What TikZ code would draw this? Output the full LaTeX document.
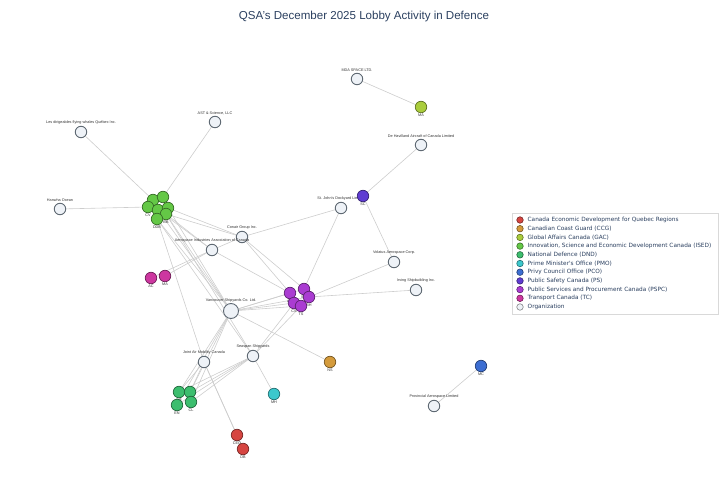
\documentclass[tikz,border=0pt]{standalone}
\usepackage{fontspec}
\setmainfont{Liberation Sans}
\newfontfamily\legendfont{DejaVu Sans}
\usetikzlibrary{backgrounds}
\definecolor{titlecol}{RGB}{42,63,95}
\definecolor{edgegray}{RGB}{205,205,205}
\definecolor{orgfill}{RGB}{238,242,247}
\definecolor{orgline}{RGB}{95,105,115}
\definecolor{cedcol}{RGB}{214,69,65}
\definecolor{ccgcol}{RGB}{212,155,60}
\definecolor{gaccol}{RGB}{170,205,60}
\definecolor{isedcol}{RGB}{100,200,70}
\definecolor{dndcol}{RGB}{60,190,110}
\definecolor{pmocol}{RGB}{60,200,205}
\definecolor{pcocol}{RGB}{60,110,210}
\definecolor{pscol}{RGB}{95,60,210}
\definecolor{pspccol}{RGB}{170,60,210}
\definecolor{tccol}{RGB}{205,55,160}
\tikzset{lbl/.style={font=\fontsize{3.8}{4}\selectfont,text=black!80,inner sep=0.5pt}}
\tikzset{org/.style={circle,draw=orgline,fill=orgfill,line width=0.9pt,minimum size=11.5bp,inner sep=0pt,label={[lbl,label distance=0.5bp]above:{#1}}}}
\tikzset{person/.style 2 args={circle,draw=#1!55!black,fill=#1,line width=0.7pt,minimum size=11.5bp,inner sep=0pt,label={[lbl,label distance=0.3bp]below:{#2}}}}
\tikzset{ed/.style={draw=edgegray,line width=0.6pt}}
\tikzset{legtxt/.style={font=\legendfont\fontsize{5.8}{6}\selectfont,text=titlecol,anchor=west,inner sep=0pt}}

\begin{document}
\begin{tikzpicture}[x=1bp,y=-1bp]
\useasboundingbox (0,0) rectangle (720,504);
\node[font=\fontsize{11.6}{13}\selectfont,text=titlecol] (title) at (364,17) {QSA's December 2025 Lobby Activity in Defence};

% organizations
\node[org=MDA SPACE LTD.] (mda) at (357,79) {};
\node[org=De Havilland Aircraft of Canada Limited] (dha) at (421,145) {};
\node[org=St. John's Dockyard Limited] (sjd) at (341,208) {};
\node[org=Les dirigeables flying whales Québec Inc.] (lfw) at (81,132) {};
\node[org={AST \& Science, LLC}] (ast) at (215,122) {};
\node[org=Hanwha Ocean] (hwo) at (60,209) {};
\node[org=Conair Group Inc.] (cgi) at (242,237) {};
\node[org=Aerospace Industries Association of Canada] (aia) at (212,250) {};
\node[org=Volatus Aerospace Corp.] (vac) at (394,262) {};
\node[org=Irving Shipbuilding Inc.] (irv) at (416,290) {};
\node[org=Vancouver Shipyards Co. Ltd., minimum size=15bp] (vsy) at (231,311) {};
\node[org=Seaspan Shipyards] (ssy) at (253,356) {};
\node[org=Joint Air Mobility Canada] (jam) at (204,362) {};
\node[org=Provincial Aerospace Limited] (pal) at (434,406) {};

% officials
\node[person={gaccol}{MA}] (g1) at (421,107) {};
\node[person={pscol}{SC}] (s1) at (363,196) {};
\node[person={isedcol}{}] (i1) at (153,200) {};
\node[person={isedcol}{}] (i2) at (163,197) {};
\node[person={isedcol}{CV}] (i3) at (148,207) {};
\node[person={isedcol}{}] (i4) at (158,210) {};
\node[person={isedcol}{}] (i5) at (168,208) {};
\node[person={isedcol}{BB}] (i6) at (166,214) {};
\node[person={isedcol}{DDB}] (i7) at (157,219) {};
\node[person={tccol}{AC}] (t1) at (151,278) {};
\node[person={tccol}{MA}] (t2) at (165,276) {};
\node[person={pspccol}{AM}] (p1) at (290,293) {};
\node[person={pspccol}{SM}] (p2) at (304,289) {};
\node[person={pspccol}{BH}] (p3) at (309,297) {};
\node[person={pspccol}{CS}] (p4) at (294,303) {};
\node[person={pspccol}{TS}] (p5) at (301,306) {};
\node[person={ccgcol}{NS}] (k1) at (330,362) {};
\node[person={pcocol}{MC}] (o1) at (481,366) {};
\node[person={pmocol}{MH}] (m1) at (274,394) {};
\node[person={dndcol}{DP}] (d1) at (179,392) {};
\node[person={dndcol}{SM}] (d2) at (190,392) {};
\node[person={dndcol}{EN}] (d3) at (177,405) {};
\node[person={dndcol}{CL}] (d4) at (191,402) {};
\node[person={cedcol}{CEQ}] (c1) at (237,435) {};
\node[person={cedcol}{DB}] (c2) at (243,449) {};

% meetings
\begin{scope}[on background layer]
\draw[ed] (mda) -- (g1);
\draw[ed] (dha) -- (s1);
\draw[ed] (s1) -- (vac);
\draw[ed] (lfw) -- (i1);
\draw[ed] (ast) -- (i2);
\draw[ed] (hwo) -- (i3);
\foreach \a/\b in {cgi/i5,cgi/i6,cgi/sjd,cgi/p1,cgi/p2,aia/i4,aia/i6,aia/p1,aia/t1,aia/t2,aia/cgi,sjd/p2,vac/p3,irv/p3,jam/i7,jam/c1,jam/c2,jam/d1,jam/d2,ssy/m1,pal/o1,vsy/k1}
  \draw[ed] (\a) -- (\b);
\foreach \p in {i4,i5,i6,i7,p1,p2,p3,p4,p5,d1,d2,d3,d4}
  \draw[ed] (vsy) -- (\p);
\foreach \p in {i6,i7,p4,p5,d1,d2,d3,d4}
  \draw[ed] (ssy) -- (\p);
\end{scope}

% legend
\node[draw=black!15,fill=white,line width=0.5pt,minimum width=206bp,minimum height=101bp,anchor=north west] (legbox) at (512,213) {};
\foreach \c/\t [count=\n from 0] in {cedcol/Canada Economic Development for Quebec Regions,ccgcol/Canadian Coast Guard (CCG),gaccol/Global Affairs Canada (GAC),isedcol/{Innovation, Science and Economic Development Canada (ISED)},dndcol/National Defence (DND),pmocol/Prime Minister's Office (PMO),pcocol/Privy Council Office (PCO),pscol/Public Safety Canada (PS),pspccol/Public Services and Procurement Canada (PSPC),tccol/Transport Canada (TC),orgfill/Organization}
{
  \node[circle,draw=\c!55!black,fill=\c,line width=0.6pt,minimum size=6.5bp,inner sep=0pt] (lm\n) at (520,220+8.7*\n) {};
  \node[legtxt] (lt\n) at (527.5,220+8.7*\n) {\t};
}
\end{tikzpicture}
\end{document}
